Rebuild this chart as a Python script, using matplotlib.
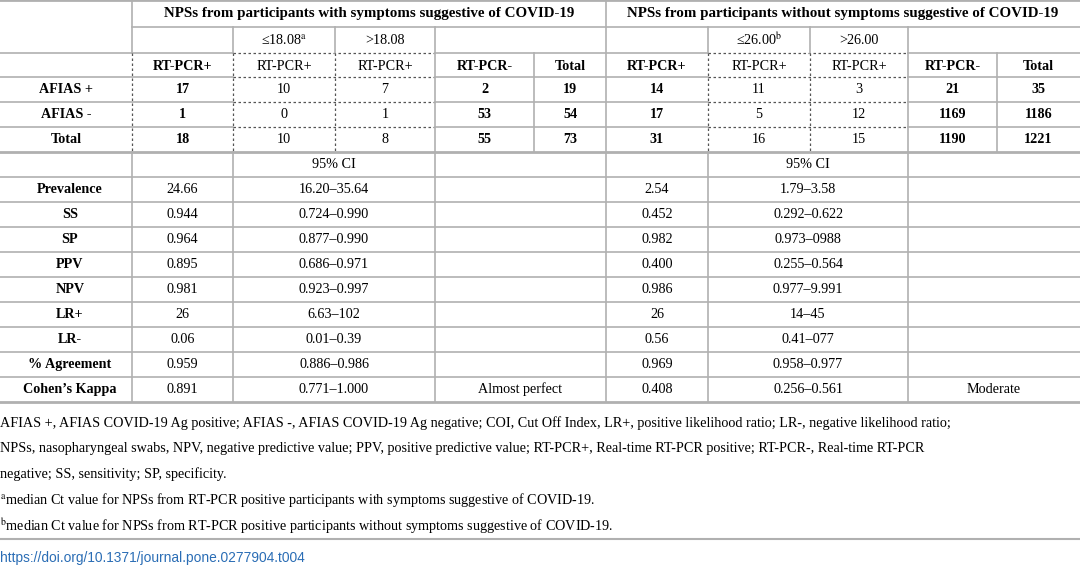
import matplotlib.pyplot as plt

plt.rcParams['font.family'] = ['Liberation Serif', 'DejaVu Serif']
plt.rcParams['mathtext.fontset'] = 'stix'

# --- Table data ---
GROUPS = ["NPSs from participants with symptoms suggestive of COVID-19",
          "NPSs from participants without symptoms suggestive of COVID-19"]
THRESHOLDS = [["\u226418.08$^{\\mathrm{a}}$", ">18.08"],
              ["\u226426.00$^{\\mathrm{b}}$", ">26.00"]]
COL_HEADERS = ["RT-PCR+", "RT-PCR+", "RT-PCR+", "RT-PCR-", "Total"]
ROW_LABELS = ["AFIAS +", "AFIAS -", "Total"]
COUNTS_SYMPT = [[17, 10, 7, 2, 19],
                [1, 0, 1, 53, 54],
                [18, 10, 8, 55, 73]]
COUNTS_ASYMPT = [[14, 11, 3, 21, 35],
                 [17, 5, 12, 1169, 1186],
                 [31, 16, 15, 1190, 1221]]
STAT_LABELS = ["Prevalence", "SS", "SP", "PPV", "NPV", "LR+", "LR-",
               "% Agreement", "Cohen\u2019s Kappa"]
STAT_SYMPT = ["24.66", "0.944", "0.964", "0.895", "0.981", "26", "0.06", "0.959", "0.891"]
CI_SYMPT = ["16.20\u201335.64", "0.724\u20130.990", "0.877\u20130.990", "0.686\u20130.971",
            "0.923\u20130.997", "6.63\u2013102", "0.01\u20130.39", "0.886\u20130.986",
            "0.771\u20131.000"]
STAT_ASYMPT = ["2.54", "0.452", "0.982", "0.400", "0.986", "26", "0.56", "0.969", "0.408"]
CI_ASYMPT = ["1.79\u20133.58", "0.292\u20130.622", "0.973\u20130988", "0.255\u20130.564",
             "0.977\u20139.991", "14\u201345", "0.41\u2013077", "0.958\u20130.977",
             "0.256\u20130.561"]
KAPPA_TEXT = ["Almost perfect", "Moderate"]
FOOTNOTES = [
    "AFIAS +, AFIAS COVID-19 Ag positive; AFIAS -, AFIAS COVID-19 Ag negative; COI, Cut Off Index, LR+, positive likelihood ratio; LR-, negative likelihood ratio;",
    "NPSs, nasopharyngeal swabs, NPV, negative predictive value; PPV, positive predictive value; RT-PCR+, Real-time RT-PCR positive; RT-PCR-, Real-time RT-PCR",
    "negative; SS, sensitivity; SP, specificity.",
    "$^{\\mathrm{a}}$median Ct value for NPSs from RT-PCR positive participants with symptoms suggestive of COVID-19.",
    "$^{\\mathrm{b}}$median Ct value for NPSs from RT-PCR positive participants without symptoms suggestive of COVID-19.",
]
DOI = "https://doi.org/10.1371/journal.pone.0277904.t004"

# --- Layout (pixels) ---
W, H = 1080, 567
LINE = '#b0b0b0'
FS = 10.2
left_cols = [132, 233, 335, 435, 534, 606]
right_cols = [606, 708, 810, 908, 997, 1080]
rows = [0, 27, 53, 77, 102, 127, 152, 177] + [177 + 25 * (i + 1) for i in range(9)]

fig = plt.figure(figsize=(W / 100, H / 100), dpi=100)
ax = fig.add_axes([0, 0, 1, 1])
ax.set_xlim(0, W)
ax.set_ylim(H, 0)
ax.axis('off')


def hline(y, x0, x1, dashed=False, lw=1.2):
    ax.plot([x0, x1], [y, y], color='#555555' if dashed else LINE,
            lw=0.9 if dashed else lw, ls=(0, (2, 2)) if dashed else '-')


def vline(x, y0, y1, dashed=False):
    ax.plot([x, x], [y0, y1], color='#555555' if dashed else LINE,
            lw=0.9 if dashed else 1.2, ls=(0, (2, 2)) if dashed else '-')


def txt(x, y, s, bold=False, size=FS, **kw):
    ax.text(x, y, s, ha='center', va='center', fontsize=size,
            fontweight='bold' if bold else 'normal', **kw)


# horizontal lines
hline(0, 0, W, lw=2)
hline(rows[1], left_cols[0], W)
for y in rows[2:6]:
    hline(y, 0, left_cols[1])
    hline(y, left_cols[1], left_cols[3], dashed=True)
    hline(y, left_cols[3], right_cols[1])
    hline(y, right_cols[1], right_cols[3], dashed=True)
    hline(y, right_cols[3], W)
for y in rows[6:]:
    hline(y, 0, W, lw=2 if y in (rows[6], rows[-1]) else 1.2)

# vertical lines
vline(left_cols[0], 0, rows[2])
vline(right_cols[0], 0, rows[-1])
for cols in (left_cols, right_cols):
    for x in cols[1:4]:
        vline(x, rows[1], rows[2])
    for x in cols[:3]:
        if x != right_cols[0]:
            vline(x, rows[2], rows[6], dashed=True)
    for x in cols[3:5]:
        vline(x, rows[2], rows[6])
    for x in (cols[1], cols[3]):
        vline(x, rows[6], rows[-1])
vline(left_cols[0], rows[6], rows[-1])

# top text
for cols, g, th, counts in ((left_cols, GROUPS[0], THRESHOLDS[0], COUNTS_SYMPT),
                            (right_cols, GROUPS[1], THRESHOLDS[1], COUNTS_ASYMPT)):
    txt((cols[0] + cols[5]) / 2, 14, g, bold=True, size=FS + 0.6)
    for j, t in enumerate(th):
        txt((cols[1 + j] + cols[2 + j]) / 2, 40, t)
    for j, h in enumerate(COL_HEADERS):
        txt((cols[j] + cols[j + 1]) / 2, 66, h, bold=j in (0, 3, 4))
    for i, r in enumerate(counts):
        for j, v in enumerate(r):
            txt((cols[j] + cols[j + 1]) / 2, (rows[3 + i] + rows[4 + i]) / 2,
                str(v), bold=j in (0, 3, 4))

for i, lab in enumerate(ROW_LABELS):
    txt(66, (rows[3 + i] + rows[4 + i]) / 2, lab, bold=True)

# stats
txt((left_cols[1] + left_cols[3]) / 2, 165, "95% CI")
txt((right_cols[1] + right_cols[3]) / 2, 165, "95% CI")
for i, lab in enumerate(STAT_LABELS):
    y = (rows[7 + i] + rows[8 + i]) / 2
    txt(70, y, lab, bold=True)
    txt((left_cols[0] + left_cols[1]) / 2, y, STAT_SYMPT[i])
    txt((left_cols[1] + left_cols[3]) / 2, y, CI_SYMPT[i])
    txt((right_cols[0] + right_cols[1]) / 2, y, STAT_ASYMPT[i])
    txt((right_cols[1] + right_cols[3]) / 2, y, CI_ASYMPT[i])
y = (rows[-2] + rows[-1]) / 2
txt((left_cols[3] + left_cols[5]) / 2, y, KAPPA_TEXT[0])
txt((right_cols[3] + right_cols[5]) / 2, y, KAPPA_TEXT[1])

# footnotes
for i, f in enumerate(FOOTNOTES):
    ax.text(0, 423 + 25.8 * i, f, ha='left', va='center', fontsize=FS)
hline(539, 0, W, lw=1.5)
ax.text(0, 558, DOI, ha='left', va='center', fontsize=FS - 0.3,
        color='#2a6db5', family=['Liberation Sans Narrow', 'Liberation Sans', 'DejaVu Sans'])

fig.savefig('out.png', dpi=100)
